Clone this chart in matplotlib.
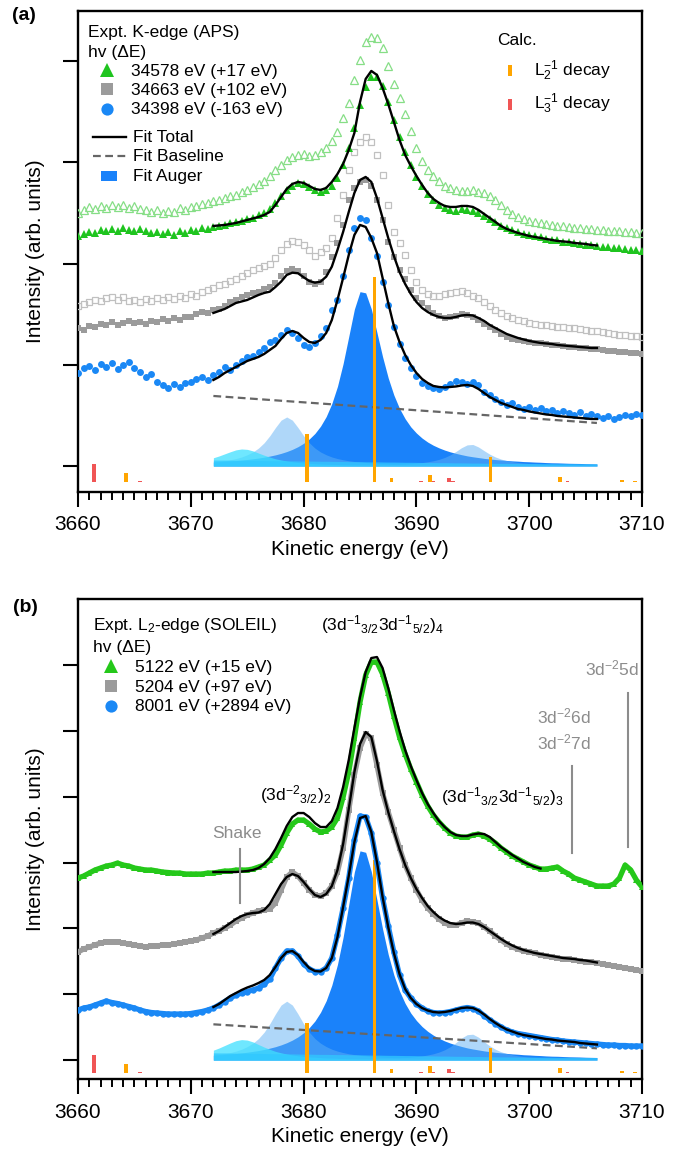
import numpy as np
import matplotlib
matplotlib.use('Agg')
import matplotlib.pyplot as plt
from matplotlib.patches import Rectangle

plt.rcParams['font.family'] = ['Liberation Sans', 'DejaVu Sans']
plt.rcParams['mathtext.default'] = 'regular'

# ---------------- data ----------------
E_DATA = np.arange(3660, 3710.25, 0.5)      # experimental energy grid (eV)
E_FIT = np.arange(3672, 3706.25, 0.5)       # fit range (eV)
E_FIT_GREEN_B = np.arange(3672, 3701.25, 0.5)

# Panel (a): K-edge (APS)
a_green = [230, 232, 234, 233, 236, 235, 237, 235, 238, 236,
           235, 237, 235, 233, 234, 232, 234, 231, 235, 233,
           236, 235, 238, 237, 239, 240, 241, 243, 244, 245,
           247, 248, 251, 253, 257, 263, 270, 276, 280, 283,
           282, 279, 276, 274, 276, 280, 288, 301, 318, 338,
           361, 379, 389, 389, 380, 364, 346, 329, 314, 301,
           289, 280, 272, 266, 261, 258, 256, 255, 257, 256,
           255, 253, 250, 247, 244, 240, 238, 236, 234, 232,
           231, 230, 229, 227, 226, 226, 224, 224, 223, 222,
           221, 221, 220, 219, 219, 218, 218, 217, 216, 216,
           215]
a_green_open = [253, 256, 259, 257, 260, 258, 261, 259, 261, 258,
                260, 257, 256, 254, 256, 253, 255, 254, 258, 256,
                259, 260, 262, 263, 265, 266, 268, 270, 271, 274,
                276, 279, 282, 285, 290, 296, 301, 306, 309, 311,
                312, 310, 311, 314, 318, 325, 334, 348, 363, 386,
                406, 424, 429, 428, 418, 400, 382, 368, 352, 335,
                318, 305, 296, 290, 285, 280, 278, 276, 275, 275,
                276, 274, 273, 270, 266, 261, 256, 252, 249, 247,
                245, 244, 243, 242, 241, 240, 240, 239, 238, 238,
                237, 237, 236, 236, 235, 235, 235, 234, 234, 233,
                233]
a_gray = [138, 136, 140, 139, 142, 141, 144, 141, 143, 145,
          143, 144, 142, 145, 144, 147, 145, 148, 146, 149,
          149, 152, 154, 153, 156, 157, 160, 164, 166, 169,
          171, 173, 174, 177, 179, 183, 190, 195, 197, 195,
          190, 184, 182, 184, 194, 209, 223, 241, 266, 278,
          284, 286, 280, 266, 246, 224, 209, 196, 187, 176,
          168, 163, 158, 153, 150, 148, 149, 150, 152, 151,
          149, 146, 142, 139, 136, 132, 129, 127, 126, 125,
          124, 123, 123, 122, 121, 121, 120, 119, 119, 118,
          118, 117, 117, 116, 115, 115, 114, 114, 113, 113,
          112]
a_gray_open = [160, 162, 164, 166, 165, 168, 169, 166, 169, 165,
               166, 164, 167, 165, 168, 166, 169, 167, 170, 168,
               172, 170, 174, 176, 178, 181, 182, 185, 187, 190,
               193, 196, 198, 200, 202, 208, 216, 222, 225, 224,
               221, 216, 210, 214, 218, 228, 248, 271, 296, 314,
               324, 329, 324, 311, 291, 261, 234, 223, 211, 196,
               184, 176, 172, 170, 170, 172, 173, 174, 175, 173,
               170, 168, 164, 160, 156, 153, 150, 148, 146, 145,
               143, 142, 141, 141, 140, 139, 139, 138, 138, 137,
               136, 135, 135, 134, 133, 132, 131, 131, 130, 130,
               129]
a_blue = [93, 98, 100, 96, 102, 99, 103, 97, 101, 104,
          98, 94, 89, 92, 84, 81, 78, 82, 79, 83,
          84, 87, 89, 86, 91, 94, 99, 96, 101, 105,
          109, 110, 114, 118, 124, 126, 131, 136, 133, 128,
          121, 119, 123, 130, 138, 156, 166, 190, 216, 238,
          248, 246, 228, 210, 184, 161, 139, 122, 108, 98,
          90, 83, 80, 78, 77, 79, 82, 85, 84, 82,
          84, 81, 74, 71, 67, 64, 61, 63, 59, 57,
          59, 56, 58, 55, 56, 53, 55, 53, 51, 54,
          50, 52, 50, 48, 50, 47, 49, 51, 50, 52,
          51]
a_fit_green = [240, 240.5, 241, 242, 243, 244.5, 246, 247.5, 249, 251,
               254, 261, 269, 277, 282, 284, 283, 280, 277, 276,
               278, 284, 292, 302, 316, 333, 364, 387, 395, 391,
               378, 362, 344, 326, 311, 300, 290, 281, 273, 267,
               263, 260, 259, 259, 260, 260, 259, 256, 252, 248,
               244, 240, 237, 235, 233, 231.5, 230, 229, 228, 227,
               226, 225, 224.5, 224, 223, 222.5, 222, 221, 220.5]
a_fit_gray = [153, 155, 157, 160, 163, 164.5, 166, 168.5, 171, 173,
              174.3, 179, 184.3, 191, 193.3, 192.7, 188.7, 185, 183.3, 184.3,
              189.3, 199.3, 216, 234, 254, 273, 286, 289, 284, 268,
              248, 228, 210, 194, 182, 172, 164, 158, 154, 151,
              149, 148, 148, 149, 150.5, 151, 150.5, 148, 145, 141,
              138, 135, 132, 130, 128, 126.5, 125, 124, 123, 122.5,
              122, 121, 120.5, 120, 119.5, 119, 118.5, 118, 118]
a_fit_blue = [86, 89, 93, 96, 99, 102, 105, 107, 109, 112,
              116, 120, 127, 133, 135, 133, 128, 124, 123, 126,
              133, 146, 166, 188, 211, 231, 241, 239, 228, 213,
              188, 163, 140, 124, 111, 101, 93, 87, 83, 80,
              79, 78.5, 79, 79.5, 80.5, 81, 80, 77, 73, 69,
              66, 63, 61, 59, 57, 56, 54.5, 53.5, 52.5, 51.5,
              51, 50, 49.5, 49, 48.5, 48, 47.5, 47, 47]
a_base_E = [3672, 3706]
a_base = [70, 43]

# Fit Auger components (blue spectrum), heights in panel (a) units
comp_main = [4.0, 4.3, 4.6, 5.0, 5.4, 5.9, 6.5, 7.2, 7.9, 8.8,
             9.9, 11.1, 12.6, 14.4, 16.6, 19.3, 22.7, 27.0, 32.5, 39.8,
             49.4, 62.4, 79.6, 102.3, 129.4, 156.8, 174.3, 173.1, 157.0, 133.4,
             109.2, 88.0, 70.9, 57.5, 47.2, 39.1, 32.9, 27.9, 23.9, 20.7,
             18.1, 15.9, 14.1, 12.6, 11.3, 10.1, 9.2, 8.4, 7.6, 7.0,
             6.4, 6.0, 5.5, 5.1, 4.8, 4.4, 4.2, 3.9, 3.7, 3.4,
             3.2, 3.1, 2.9, 2.7, 2.6, 2.5, 2.3, 2.2, 2.1]
comp_sat1 = [3.9, 4.5, 5.2, 6.2, 7.4, 9.0, 11.2, 14.0, 17.9, 23.2,
             30.2, 38.4, 45.8, 49.0, 45.8, 38.4, 30.2, 23.2, 17.9, 14.0,
             11.2, 9.0, 7.4, 6.2, 5.2, 4.5, 3.9, 3.4, 3.0, 2.6,
             2.3, 2.1, 1.9, 1.7, 1.6, 1.4, 1.3, 1.2, 1.1, 1.0,
             0.95, 0.9, 0.8, 0.8, 0.7, 0.7, 0.6, 0.6, 0.6, 0.5,
             0.5, 0.5, 0.5, 0.4, 0.4, 0.4, 0.4, 0.4, 0.4, 0.3,
             0.3, 0.3, 0.3, 0.3, 0.3, 0.3, 0.3, 0.2, 0.2]
comp_sat2 = [0.14, 0.15, 0.16, 0.17, 0.17, 0.18, 0.19, 0.2, 0.21, 0.22,
             0.23, 0.25, 0.26, 0.28, 0.29, 0.31, 0.33, 0.36, 0.38, 0.41,
             0.45, 0.49, 0.53, 0.58, 0.63, 0.7, 0.75, 0.85, 0.95, 1.06,
             1.2, 1.36, 1.5, 1.73, 2.0, 2.36, 2.8, 3.4, 4.2, 5.2,
             6.6, 8.5, 11.1, 14.5, 18.3, 21.1, 21.5, 19.0, 15.3, 11.8,
             9.0, 6.9, 5.4, 4.3, 3.5, 2.9, 2.4, 2.1, 1.8, 1.5,
             1.3, 1.2, 1.05, 0.94, 0.84, 0.76, 0.69, 0.63, 0.58]
comp_shake = [8.2, 10.0, 12.1, 14.2, 16.1, 17.0, 16.6, 15.1, 12.9, 10.8,
              8.9, 7.2, 6.0, 5.0, 4.2, 3.5, 3.0, 2.6, 2.3, 2.0,
              1.7, 1.6, 1.4, 1.2, 1.1, 1.0, 0.9, 0.9, 0.8, 0.7,
              0.7, 0.6, 0.6, 0.5, 0.5, 0.5, 0.4, 0.4, 0.4, 0.4,
              0.3, 0.3, 0.3, 0.3, 0.3, 0.3, 0.3, 0.2, 0.2, 0.2,
              0.2, 0.2, 0.2, 0.2, 0.2, 0.2, 0.2, 0.2, 0.2, 0.2,
              0.1, 0.1, 0.1, 0.1, 0.1, 0.1, 0.1, 0.1, 0.1]
comp_broad = [6.0, 5.9, 5.9, 5.8, 5.7, 5.7, 5.6, 5.5, 5.5, 5.4,
              5.3, 5.3, 5.2, 5.1, 5.1, 5.0, 4.9, 4.9, 4.8, 4.7,
              4.7, 4.6, 4.5, 4.5, 4.4, 4.3, 4.3, 4.2, 4.1, 4.1,
              4.0, 3.9, 3.9, 3.8, 3.7, 3.7, 3.6, 3.5, 3.5, 3.4,
              3.3, 3.3, 3.2, 3.1, 3.1, 3.0, 2.9, 2.9, 2.8, 2.7,
              2.7, 2.6, 2.6, 2.5, 2.5, 2.4, 2.4, 2.4, 2.3, 2.3,
              2.3, 2.2, 2.2, 2.2, 2.2, 2.1, 2.1, 2.1, 2.1]

# Panel (b): L2-edge (SOLEIL)
b_green = [182, 184, 187, 190, 192, 194, 195, 197, 195, 194,
           192, 191, 190, 190, 189, 188, 187.5, 187, 187, 186,
           186, 186, 186, 187, 187, 188, 189, 189, 190, 190,
           190, 191, 193, 195, 200, 205, 215, 227, 236, 240,
           240, 236, 231, 228, 229, 233, 242, 263, 288, 322,
           358, 385, 398, 398, 386, 367, 344, 323, 306, 291,
           278, 265, 254, 245, 238, 232, 227, 224, 223, 223,
           225, 226, 224, 221, 217, 212, 208, 204, 201, 198,
           195, 193, 191, 191, 192, 193, 189, 186, 182, 180,
           178, 176, 174, 174, 174, 176, 182, 195, 190, 180,
           173]
b_gray = [108, 111, 113, 115, 117, 118, 118, 118, 117, 116,
          115, 114, 113, 114, 114, 115, 115, 116, 117, 118,
          119, 120, 122, 124, 127, 129, 132, 135, 139, 142,
          145, 147, 149, 150, 151, 157, 170, 183, 188, 184,
          177, 170, 165, 164, 167, 174, 188, 212, 250, 285,
          312, 326, 322, 295, 267, 248, 230, 212, 195, 182,
          170, 160, 152, 146, 141, 137, 135, 135, 137, 139,
          138, 137, 133, 129, 124, 120, 116, 113, 111, 109,
          108, 107, 105, 104, 103, 102, 101, 101, 100, 99,
          98, 98, 97, 96, 95, 94, 93, 92, 91, 90,
          89]
b_blue = [50, 52, 53, 55, 57, 59, 57.5, 56.5, 55, 53.5,
          52, 50, 48.5, 47.5, 47, 46.5, 46, 46, 46, 46,
          46.5, 47.5, 48.5, 50, 52, 55, 58.5, 62, 65, 67,
          68.5, 70, 72, 76, 81, 92, 102, 109, 109, 104,
          96, 91, 88.5, 88.5, 92, 102, 125, 152, 182, 220,
          244, 243, 227, 197, 162, 134, 108, 85, 70, 62,
          56, 52, 49, 47.5, 47, 47.5, 48.5, 50, 51.5, 52.5,
          51.5, 49, 44.5, 40, 36.5, 33, 30, 28, 26.5, 25.5,
          24.5, 23.5, 22.5, 21.5, 20.5, 20, 19, 18.5, 18, 17.5,
          17, 16.5, 16, 15.5, 15, 15, 14.5, 14.5, 14, 14,
          14]
b_fit_green = [188, 188, 188, 188, 188, 188.5, 189, 190, 192, 196,
               202, 211, 222, 234, 243, 247, 247, 243, 237, 233,
               233, 239, 252, 273, 300, 332, 363, 388, 402, 403,
               392, 372, 350, 329, 310, 294, 280, 267, 256, 247,
               239, 233, 228, 225, 224, 224, 225.5, 226.5, 226, 223,
               218, 213, 209, 205, 201.5, 198, 195.5, 193, 191.5]
b_fit_gray = [126, 129, 133, 137, 141, 144, 146, 147, 147.5, 150,
              156, 166, 176, 183, 186, 184, 178, 171, 165, 163,
              166, 174, 190, 216, 251, 288, 316, 328, 323, 299,
              270, 248, 229, 211, 195, 182, 171, 162, 154, 148,
              143, 139.5, 137, 136, 136.5, 137.5, 137.5, 136, 133, 129,
              125, 121, 117.5, 114.5, 112, 110, 108.5, 107, 106, 105,
              104, 103, 102, 101.5, 101, 100, 99.5, 98.5, 97.5]
b_fit_blue = [53, 56, 60, 64, 67, 70, 72.5, 74.5, 77, 80,
              85, 93, 102, 108, 109, 105, 98, 92, 89, 88.5,
              92, 102, 123, 153, 184, 218, 242, 244, 228, 198,
              163, 133, 107, 86, 71, 62, 56, 52, 49.5, 48,
              47.5, 48, 49, 50.5, 52, 52.5, 52, 49.5, 45.5, 41,
              37, 33.5, 30.5, 28.5, 26.5, 25, 24, 23, 22, 21,
              20.5, 19.5, 19, 18.5, 18, 17, 16.5, 16, 15.5]
b_base_E = [3672, 3706]
b_base = [35.7, 11.7]

# Calculated decay lines
calc_L2_E = [3664.25, 3680.3, 3686.3, 3687.8, 3691.2, 3696.55, 3702.75, 3708.2, 3709.4]
calc_L2_I = [8.7, 48, 205, 3.7, 6.7, 24.3, 4.7, 2.0, 1.0]
calc_L3_E = [3661.4, 3665.5, 3690.4, 3691.5, 3692.9, 3693.25, 3703.4]
calc_L3_I = [17.7, 1.0, 1.0, 1.0, 3.7, 1.0, 1.0]

# ---------------- style ----------------
C_GREEN = '#1fc41f'
C_GREEN_OPEN = '#86de86'
C_GRAY = '#9b9b9b'
C_GRAY_OPEN = '#c0c0c0'
C_BLUE = '#1a88f5'
C_MAIN = '#1a82fa'
C_SAT = '#61b1f5'
C_CYAN = '#3fe0ff'
C_L2 = '#ffa500'
C_L3 = '#f05555'
C_ANN = '#8c8c8c'

fig = plt.figure(figsize=(6.82, 11.52), dpi=100)
axA = fig.add_axes([0.1144, 0.5732, 0.827, 0.4173])
axB = fig.add_axes([0.1144, 0.0631, 0.827, 0.4169])


def style_axes(ax, ylo, yhi, unit, nticks):
    ax.set_xlim(3660, 3710)
    ax.set_ylim(ylo, yhi)
    ax.set_xticks(np.arange(3660, 3711, 10))
    ax.set_xticks(np.arange(3660, 3711, 1), minor=True)
    ax.set_yticks([unit * i for i in range(nticks)])
    ax.set_yticklabels([])
    ax.tick_params(axis='both', which='major', direction='out', length=11,
                   width=1.5, labelsize=15, pad=6)
    ax.tick_params(axis='x', which='minor', direction='out', length=6, width=1.4)
    ax.tick_params(top=False, right=False)
    for s in ax.spines.values():
        s.set_linewidth(1.7)
    ax.set_xlabel('Kinetic energy (eV)', fontsize=15, labelpad=4)
    ax.set_ylabel('Intensity (arb. units)', fontsize=15, labelpad=7)


def draw_components(ax, scale):
    ax.fill_between(E_FIT, 0, np.array(comp_main) * scale, color=C_MAIN, lw=0, zorder=1)
    ax.fill_between(E_FIT, 0, np.array(comp_sat1) * scale, color=C_SAT, alpha=0.5, lw=0, zorder=2)
    ax.fill_between(E_FIT, 0, np.array(comp_sat2) * scale, color=C_SAT, alpha=0.5, lw=0, zorder=2)
    ax.fill_between(E_FIT, 0, np.array(comp_shake) * scale, color=C_CYAN, alpha=0.75, lw=0, zorder=3)
    ax.fill_between(E_FIT, 0, np.array(comp_broad) * scale, color='#30c8ff', alpha=0.75, lw=0, zorder=3)


def draw_calc(ax, scale, bottom):
    ax.bar(calc_L2_E, np.array(calc_L2_I) * scale, width=0.32, bottom=bottom,
           color=C_L2, lw=0, zorder=5)
    ax.bar(calc_L3_E, np.array(calc_L3_I) * scale, width=0.32, bottom=bottom,
           color=C_L3, lw=0, zorder=5)


# ---------------- panel (a) ----------------
style_axes(axA, -25.7, 455, 101.2, 5)
draw_components(axA, 1.0)
axA.plot(a_base_E, a_base, color='#666666', lw=1.6, ls=(0, (3.5, 2)), zorder=4)
draw_calc(axA, 1.0, -15.7)
axA.plot(E_DATA, a_green_open, ls='none', marker='^', ms=5.2, mfc='none',
         mec=C_GREEN_OPEN, mew=0.9, zorder=6)
axA.plot(E_DATA, a_gray_open, ls='none', marker='s', ms=4.6, mfc='none',
         mec=C_GRAY_OPEN, mew=0.9, zorder=6)
axA.plot(E_DATA, a_green, ls='none', marker='^', ms=5.2, color=C_GREEN, mew=0, zorder=7)
axA.plot(E_DATA, a_gray, ls='none', marker='s', ms=4.5, color=C_GRAY, mew=0, zorder=7)
axA.plot(E_DATA, a_blue, ls='none', marker='o', ms=5.0, color=C_BLUE, mew=0, zorder=7)
for fit in (a_fit_green, a_fit_gray, a_fit_blue):
    axA.plot(E_FIT, fit, color='black', lw=1.7, zorder=8)

# legend (a)
T = axA.transAxes
FS = 12.5
axA.text(0.0177, 0.9453, 'Expt. K-edge (APS)', transform=T, fontsize=FS, va='baseline')
axA.text(0.0177, 0.905, 'hv (ΔE)', transform=T, fontsize=FS, va='baseline')
rowsA = [(0.8773, 0.8648, '^', C_GREEN, 10, '34578 eV (+17 eV)'),
         (0.8378, 0.8252, 's', C_GRAY, 8.4, '34663 eV (+102 eV)'),
         (0.7962, 0.7851, 'o', C_BLUE, 8.8, '34398 eV (-163 eV)')]
for ym, yt, mk, col, ms, lab in rowsA:
    axA.plot([0.0514], [ym], transform=T, marker=mk, ms=ms, color=col, mew=0, clip_on=False)
    axA.text(0.094, yt, lab, transform=T, fontsize=FS, va='baseline')
axA.plot([0.0266, 0.0851], [0.7379, 0.7379], transform=T, color='black', lw=1.7)
axA.text(0.0975, 0.7281, 'Fit Total', transform=T, fontsize=FS, va='baseline')
axA.plot([0.0266, 0.0851], [0.6983, 0.6983], transform=T, color='#666666', lw=1.6,
         ls=(0, (3.5, 2)))
axA.text(0.0975, 0.6879, 'Fit Baseline', transform=T, fontsize=FS, va='baseline')
axA.add_patch(Rectangle((0.0402, 0.6464), 0.0296, 0.0208, transform=T, color=C_MAIN, lw=0))
axA.text(0.0975, 0.6463, 'Fit Auger', transform=T, fontsize=FS, va='baseline')
axA.text(0.7429, 0.9293, 'Calc.', transform=T, fontsize=FS, va='baseline')
axA.add_patch(Rectangle((0.7625, 0.8646), 0.0071, 0.0229, transform=T, color=C_L2, lw=0))
axA.text(0.8085, 0.8648, r'L$_2^{-1}$ decay', transform=T, fontsize=FS, va='baseline')
axA.add_patch(Rectangle((0.7625, 0.7949), 0.0071, 0.0229, transform=T, color=C_L3, lw=0))
axA.text(0.8085, 0.7955, r'L$_3^{-1}$ decay', transform=T, fontsize=FS, va='baseline')

# ---------------- panel (b) ----------------
style_axes(axB, -19.3, 461, 65.8, 7)
draw_components(axB, 1.2)
axB.plot(b_base_E, b_base, color='#666666', lw=1.6, ls=(0, (3.5, 2)), zorder=4)
draw_calc(axB, 1.04, -13.0)
for ys, mk, col, ms in ((b_green, '^', '#25c81a', 4.6), (b_gray, 's', C_GRAY, 4.2),
                        (b_blue, 'o', C_BLUE, 4.6)):
    axB.plot(E_DATA, ys, color=col, lw=3.8, zorder=6, solid_capstyle='round')
    axB.plot(E_DATA, ys, ls='none', marker=mk, ms=ms, color=col, mew=0, zorder=6)
axB.plot(E_FIT_GREEN_B, b_fit_green, color='black', lw=1.7, zorder=8)
axB.plot(E_FIT, b_fit_gray, color='black', lw=1.7, zorder=8)
axB.plot(E_FIT, b_fit_blue, color='black', lw=1.7, zorder=8)

# legend (b)
T = axB.transAxes
axB.text(0.0266, 0.9355, r'Expt. L$_2$-edge (SOLEIL)', transform=T, fontsize=FS, va='baseline')
axB.text(0.0266, 0.8903, 'hv (ΔE)', transform=T, fontsize=FS, va='baseline')
rowsB = [(0.8605, 0.8487, '^', '#25c81a', 10, '5122 eV (+15 eV)'),
         (0.8189, 0.8070, 's', C_GRAY, 8.4, '5204 eV (+97 eV)'),
         (0.7772, 0.7668, 'o', C_BLUE, 8.8, '8001 eV (+2894 eV)')]
for ym, yt, mk, col, ms, lab in rowsB:
    axB.plot([0.0585], [ym], transform=T, marker=mk, ms=ms, color=col, mew=0, clip_on=False)
    axB.text(0.101, yt, lab, transform=T, fontsize=FS, va='baseline')

# annotations (b)
axB.text(3687.0, 430, r'(3d$^{-1}{}_{3/2}$3d$^{-1}{}_{5/2}$)$_4$', fontsize=FS,
         ha='center', va='baseline')
axB.text(3679.3, 260, r'(3d$^{-2}{}_{3/2}$)$_2$', fontsize=FS, ha='center', va='baseline')
axB.text(3697.6, 258, r'(3d$^{-1}{}_{3/2}$3d$^{-1}{}_{5/2}$)$_3$', fontsize=FS,
         ha='center', va='baseline')
axB.text(3674.1, 221.7, 'Shake', fontsize=FS, ha='center', va='baseline', color=C_ANN)
axB.plot([3674.36, 3674.36], [157, 211], color=C_ANN, lw=1.5, zorder=9)
axB.text(3707.3, 385, r'3d$^{-2}$5d', fontsize=FS, ha='center', va='baseline', color=C_ANN)
axB.plot([3708.8, 3708.8], [213, 367], color=C_ANN, lw=1.5, zorder=9)
axB.text(3703.1, 337, r'3d$^{-2}$6d', fontsize=FS, ha='center', va='baseline', color=C_ANN)
axB.text(3703.1, 311, r'3d$^{-2}$7d', fontsize=FS, ha='center', va='baseline', color=C_ANN)
axB.plot([3703.8, 3703.8], [207, 294], color=C_ANN, lw=1.5, zorder=9)

# panel labels
fig.text(12 / 682, 1 - 15 / 1152, '(a)', fontsize=14, fontweight='bold', va='center')
fig.text(13 / 682, 1 - 608 / 1152, '(b)', fontsize=14, fontweight='bold', va='center')

fig.savefig('out.png', dpi=100)
